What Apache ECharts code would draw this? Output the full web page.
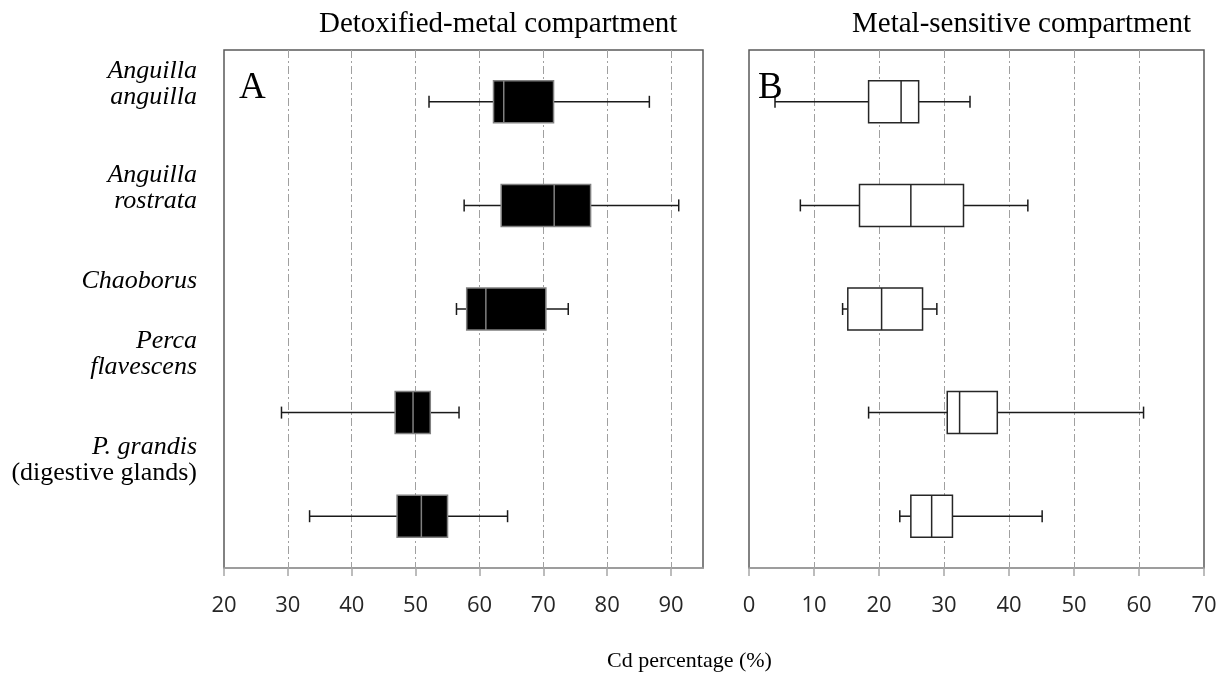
<!DOCTYPE html>
<html>
<head>
<meta charset="utf-8">
<script src="https://cdn.jsdelivr.net/npm/echarts@6/dist/echarts.min.js"></script>
<style>
  html, body { margin: 0; padding: 0; background: #fff; }
  #chart { width: 1225px; height: 674px; }
</style>
</head>
<body>
<div id="chart"></div>
<script>
// Species, top to bottom
const species = ['Anguilla anguilla', 'Anguilla rostrata', 'Chaoborus', 'Perca flavescens', 'P. grandis'];

// Detoxified-metal compartment: [min, Q1, median, Q3, max] (% of Cd)
const detoxMin    = [52.1, 57.6, 56.4, 29.0, 33.4];
const detoxQ1     = [62.2, 63.4, 58.0, 46.8, 47.1];
const detoxMedian = [63.8, 71.7, 61.0, 49.6, 50.9];
const detoxQ3     = [71.6, 77.4, 70.4, 52.3, 55.0];
const detoxMax    = [86.6, 91.2, 73.9, 56.8, 64.4];

// Metal-sensitive compartment: [min, Q1, median, Q3, max] (% of Cd)
const sensMin    = [4.0, 7.9, 14.4, 18.4, 23.2];
const sensQ1     = [18.4, 17.0, 15.2, 30.5, 24.9];
const sensMedian = [23.4, 24.9, 20.4, 32.4, 28.1];
const sensQ3     = [26.1, 33.0, 26.7, 38.2, 31.3];
const sensMax    = [34.0, 42.9, 28.9, 60.7, 45.1];

// Value axis ranges and tick steps
const detoxAxis = { min: 20, max: 95, interval: 10 };
const sensAxis  = { min: 0, max: 70, interval: 10 };

// Species labels as rich text (italic names, plain note)
const speciesLabels = [
  '{i|Anguilla}\n{i|anguilla}',
  '{i|Anguilla}\n{i|rostrata}',
  '{i|Chaoborus}',
  '{i|Perca}\n{i|flavescens}',
  '{i|P. grandis}\n{n|(digestive glands)}'
];
// vertical nudge of each species label relative to its row (px)
const labelShift = [-18, -17, -28, -58, -56];

function rows(mins, q1s, meds, q3s, maxs) {
  return species.map((_, i) => [i, mins[i], q1s[i], meds[i], q3s[i], maxs[i]]);
}

function boxRenderer(fill, boxStroke) {
  return function (params, api) {
    const cat = api.value(0);
    const pMin = api.coord([api.value(1), cat]);
    const pQ1  = api.coord([api.value(2), cat]);
    const pMed = api.coord([api.value(3), cat]);
    const pQ3  = api.coord([api.value(4), cat]);
    const pMax = api.coord([api.value(5), cat]);
    const y = pMin[1];
    const half = 21, cap = 6;
    const whisker = { stroke: '#1a1a1a', lineWidth: 1.5 };
    return {
      type: 'group',
      children: [
        { type: 'line', shape: { x1: pMin[0], y1: y, x2: pQ1[0], y2: y }, style: whisker },
        { type: 'line', shape: { x1: pQ3[0], y1: y, x2: pMax[0], y2: y }, style: whisker },
        { type: 'line', shape: { x1: pMin[0], y1: y - cap, x2: pMin[0], y2: y + cap }, style: whisker },
        { type: 'line', shape: { x1: pMax[0], y1: y - cap, x2: pMax[0], y2: y + cap }, style: whisker },
        { type: 'rect', shape: { x: pQ1[0], y: y - half, width: pQ3[0] - pQ1[0], height: half * 2 },
          style: { fill: fill, stroke: boxStroke, lineWidth: 1.5 } },
        { type: 'line', shape: { x1: pMed[0], y1: y - half, x2: pMed[0], y2: y + half },
          style: { stroke: boxStroke, lineWidth: 1.5 } }
      ]
    };
  };
}

const gridLine = { show: true, showMinLine: false, showMaxLine: false,
  lineStyle: { color: '#a0a0a0', width: 1, type: [8, 3, 2, 3] } };

function valueAxis(gridIndex, range) {
  return {
    type: 'value', gridIndex: gridIndex,
    min: range.min, max: range.max, interval: range.interval,
    axisLine: { show: true, lineStyle: { color: '#a6a6a6', width: 1.5 } },
    axisTick: { show: true, inside: false, length: 8, lineStyle: { color: '#a6a6a6', width: 1.5 } },
    axisLabel: { color: '#262626', fontFamily: 'Open Sans', fontSize: 22, margin: 27, showMaxLabel: range.max % range.interval === 0 },
    splitLine: gridLine
  };
}

function catAxis(gridIndex) {
  return {
    type: 'category', gridIndex: gridIndex, data: species, inverse: true,
    axisLine: { show: false }, axisTick: { show: false }, axisLabel: { show: false },
    splitLine: { show: false }
  };
}

const chart = echarts.init(document.getElementById('chart'), null, { renderer: 'canvas' });

const serif = 'Liberation Serif';

chart.setOption({
  backgroundColor: '#ffffff',
  animation: false,
  grid: [
    { left: 224, top: 50, width: 479, height: 518, show: true, borderColor: '#595959', borderWidth: 1.5, backgroundColor: 'transparent' },
    { left: 749, top: 50, width: 455, height: 518, show: true, borderColor: '#595959', borderWidth: 1.5, backgroundColor: 'transparent' }
  ],
  xAxis: [valueAxis(0, detoxAxis), valueAxis(1, sensAxis)],
  yAxis: [catAxis(0), catAxis(1)],
  title: [
    { text: 'Detoxified-metal compartment', left: 314, top: 5,
      textStyle: { fontFamily: serif, fontWeight: 'normal', fontSize: 29, color: '#000' } },
    { text: 'Metal-sensitive compartment', left: 847, top: 5,
      textStyle: { fontFamily: serif, fontWeight: 'normal', fontSize: 29, color: '#000' } },
    { text: 'Cd percentage (%)', left: 602, top: 645,
      textStyle: { fontFamily: serif, fontWeight: 'normal', fontSize: 22, color: '#000' } },
    { text: 'A', left: 234, top: 65,
      textStyle: { fontFamily: serif, fontWeight: 'normal', fontSize: 37, color: '#000' } },
    { text: 'B', left: 753, top: 65,
      textStyle: { fontFamily: serif, fontWeight: 'normal', fontSize: 37, color: '#000' } }
  ],
  series: [
    {
      type: 'custom', name: 'Detoxified-metal compartment',
      xAxisIndex: 0, yAxisIndex: 0,
      renderItem: boxRenderer('#000000', '#808080'),
      encode: { x: [1, 2, 3, 4, 5], y: 0 },
      data: rows(detoxMin, detoxQ1, detoxMedian, detoxQ3, detoxMax),
      z: 3
    },
    {
      type: 'custom', name: 'Metal-sensitive compartment',
      xAxisIndex: 1, yAxisIndex: 1,
      renderItem: boxRenderer('#ffffff', '#262626'),
      encode: { x: [1, 2, 3, 4, 5], y: 0 },
      data: rows(sensMin, sensQ1, sensMedian, sensQ3, sensMax),
      z: 3
    }
  ]
});

// Species names beside panel A, placed from the category axis positions
const labelX = chart.convertToPixel({ gridIndex: 0 }, [detoxAxis.min, 0])[0] - 27;
chart.setOption({
  graphic: species.map((name, i) => {
    const rowY = chart.convertToPixel({ yAxisIndex: 0 }, name);
    return {
      type: 'text',
      x: labelX,
      y: rowY + labelShift[i],
      style: {
        text: speciesLabels[i],
        align: 'right',
        verticalAlign: 'middle',
        rich: {
          i: { fontFamily: serif, fontStyle: 'italic', fontSize: 26, lineHeight: 26, color: '#000', align: 'right' },
          n: { fontFamily: serif, fontSize: 26, lineHeight: 26, color: '#000', align: 'right' }
        }
      }
    };
  })
});
</script>
</body>
</html>
